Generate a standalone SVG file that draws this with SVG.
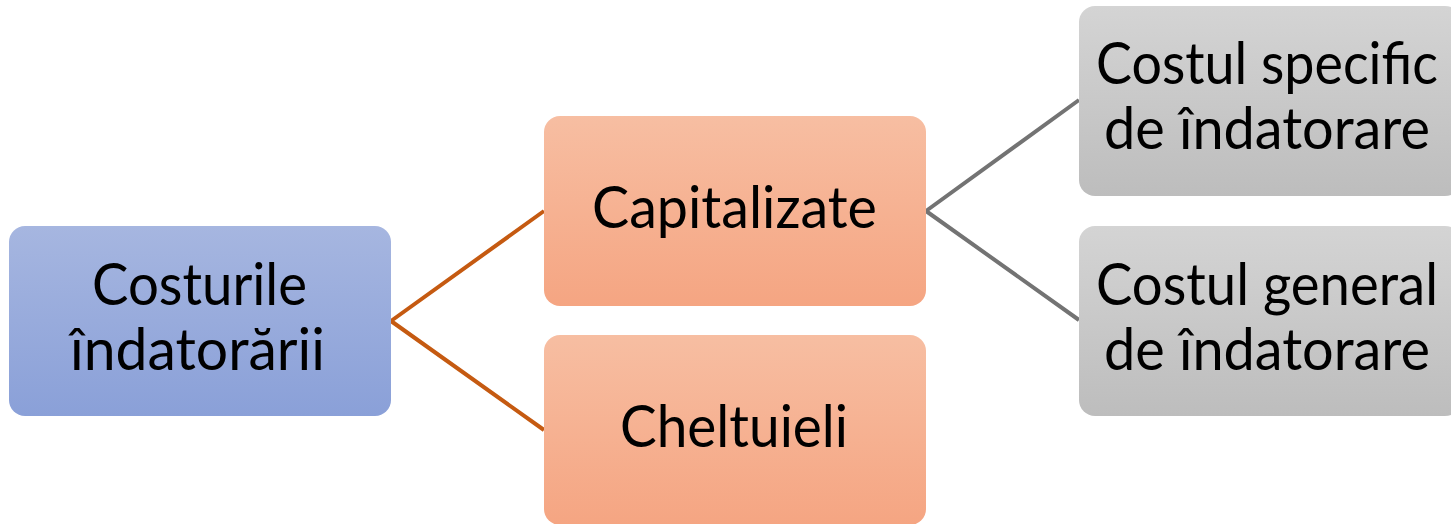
<svg xmlns="http://www.w3.org/2000/svg" width="1451" height="524" viewBox="0 0 1451 524">
<defs>
<linearGradient id="gBlue" x1="0" y1="0" x2="0" y2="1"><stop offset="0" stop-color="#A6B6E0"/><stop offset="1" stop-color="#8AA0D8"/></linearGradient>
<linearGradient id="gOrange" x1="0" y1="0" x2="0" y2="1"><stop offset="0" stop-color="#F7BEA2"/><stop offset="1" stop-color="#F5A582"/></linearGradient>
<linearGradient id="gGray" x1="0" y1="0" x2="0" y2="1"><stop offset="0" stop-color="#D4D4D4"/><stop offset="1" stop-color="#BDBDBD"/></linearGradient>
<style>
.t{font-family:Lato,"Open Sans","Liberation Sans",sans-serif;font-size:58px;fill:#000;text-anchor:middle}
.c{fill:none;stroke-width:4}
</style>
</defs>
<rect width="1451" height="524" fill="#fff"/>
<g id="connectors">
<path class="c" stroke="#C55A11" d="M391 321 L544 211 M391 321 L544 430"/>
<path class="c" stroke="#737373" d="M926 211 L1079 100 M926 211 L1079 320"/>
</g>
<g id="n-costuri">
<rect x="9" y="226" width="382" height="190" rx="16" fill="url(#gBlue)"/>
<text class="t" x="199.5" y="305" textLength="215" lengthAdjust="spacingAndGlyphs">Costurile</text>
<text class="t" x="197.5" y="370" textLength="255" lengthAdjust="spacingAndGlyphs">îndatorării</text>
</g>
<g id="n-capitalizate">
<rect x="544" y="116" width="382" height="190" rx="16" fill="url(#gOrange)"/>
<text class="t" x="734.5" y="228" textLength="285" lengthAdjust="spacingAndGlyphs">Capitalizate</text>
</g>
<g id="n-cheltuieli">
<rect x="544" y="335" width="382" height="190" rx="16" fill="url(#gOrange)"/>
<text class="t" x="734" y="447" textLength="228" lengthAdjust="spacingAndGlyphs">Cheltuieli</text>
</g>
<g id="n-specific">
<rect x="1079" y="6" width="382" height="190" rx="16" fill="url(#gGray)"/>
<text class="t" x="1267" y="84" textLength="342" lengthAdjust="spacingAndGlyphs">Costul specific</text>
<text class="t" x="1267" y="149" textLength="326" lengthAdjust="spacingAndGlyphs">de îndatorare</text>
</g>
<g id="n-general">
<rect x="1079" y="226" width="382" height="190" rx="16" fill="url(#gGray)"/>
<text class="t" x="1267" y="305" textLength="342" lengthAdjust="spacingAndGlyphs">Costul general</text>
<text class="t" x="1267" y="370" textLength="326" lengthAdjust="spacingAndGlyphs">de îndatorare</text>
</g>
</svg>
